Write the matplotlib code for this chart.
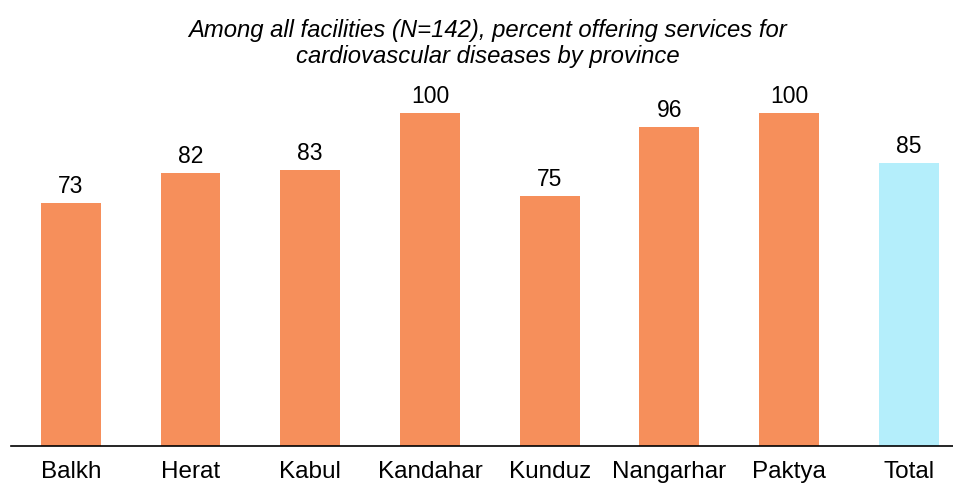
import matplotlib.pyplot as plt

plt.rcParams["font.family"] = ["Liberation Sans", "DejaVu Sans"]

provinces = ["Balkh", "Herat", "Kabul", "Kandahar", "Kunduz", "Nangarhar", "Paktya", "Total"]
percent = [73, 82, 83, 100, 75, 96, 100, 85]
colors = ["#F68F5B"] * 7 + ["#B4EEFB"]

fig = plt.figure(figsize=(9.54, 4.84), dpi=100)
ax = fig.add_axes([11 / 954, 38 / 484, 943 / 954, 366 / 484])

x = range(len(provinces))
bars = ax.bar(x, percent, width=0.5, color=colors)
for xi, v in zip(x, percent):
    ax.text(xi, v + 1.5, str(v), ha="center", va="bottom", fontsize=16.5)

ax.set_xlim(-0.5, -0.5 + 943 / 119.7)
ax.set_ylim(0, 110)
ax.set_xticks(list(x))
ax.set_xticklabels(provinces, fontsize=17.5)
ax.tick_params(axis="x", length=0, pad=10.5)
ax.set_yticks([])
for side in ["top", "right", "left"]:
    ax.spines[side].set_visible(False)
ax.spines["bottom"].set_linewidth(1.2)

fig.text(0.511, 0.91, "Among all facilities (N=142), percent offering services for\ncardiovascular diseases by province",
         ha="center", va="center", fontsize=17.2, style="italic", linespacing=1.12)

fig.savefig("out.png", dpi=100)
